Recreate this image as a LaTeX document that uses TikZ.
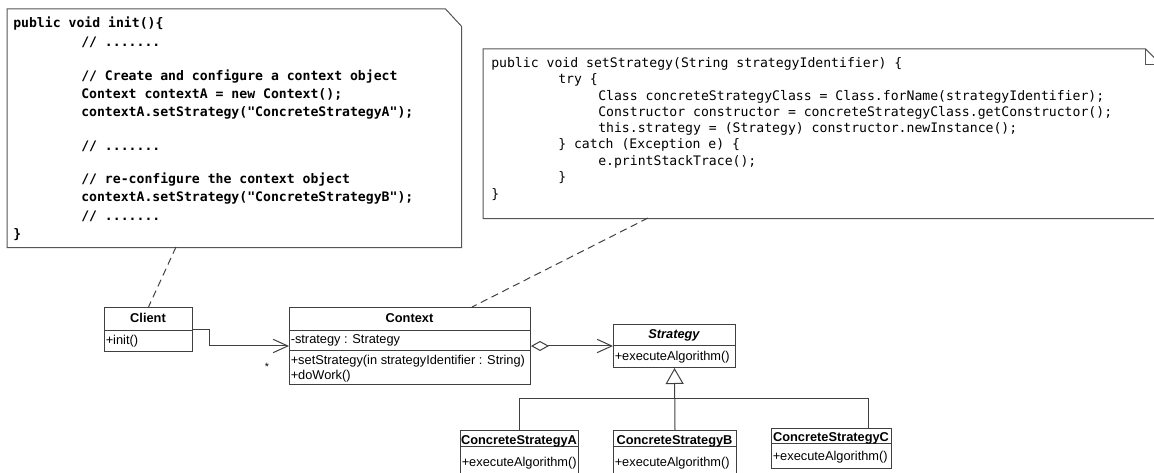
\documentclass[tikz,border=0pt]{standalone}
\usepackage{fontspec}
\setmainfont{Liberation Sans}
\newfontfamily\codefont{DejaVu Sans Mono}
\usetikzlibrary{arrows.meta}
\definecolor{linec}{RGB}{64,64,64}
\definecolor{notec}{RGB}{85,85,85}
\begin{document}
\begin{tikzpicture}[x=0.75pt,y=-0.75pt,
  umlbox/.style={draw=linec, line width=0.75pt, inner sep=0, anchor=north west},
  umltitle/.style={font=\fontsize{9.6}{11}\selectfont\bfseries, inner sep=0, anchor=base},
  umltext/.style={font=\fontsize{9.6}{11}\selectfont, inner sep=0, anchor=base west},
  codeA/.style={font=\fontsize{9.85}{12}\selectfont\codefont\bfseries, inner sep=0, anchor=base west},
  codeB/.style={font=\fontsize{9.85}{12}\selectfont\codefont, inner sep=0, anchor=base west},
  sepline/.style={draw=linec, line width=0.75pt},
  conn/.style={draw=linec, line width=0.75pt},
  openhead/.style={-{Straight Barb[length=11pt,width=10pt]}},
  notedash/.style={draw=linec, line width=0.75pt, dash pattern=on 5.5pt off 3.5pt},
  noteline/.style={draw=notec, line width=0.75pt, line join=miter},
  notebox/.style={inner sep=0, anchor=north west},
]
\useasboundingbox (0,0) rectangle (1154,473);
\fill[white] (0,0) rectangle (1154,473);
\clip (0,0) rectangle (1154,473);

% ---------- note 1 ----------
\node[notebox, minimum width=340.5pt, minimum height=178.5pt] (note1) at (7,9) {};
\draw[noteline] (note1.north west) -- ([xshift=-12pt]note1.north east)
  -- ([yshift=-13pt]note1.north east) -- (note1.south east) -- (note1.south west) -- cycle;
\node[codeA] (a1)  at (13,28)  {public void init()\{};
\node[codeA] (a2)  at (81,47)  {// .......};
\node[codeA] (a3)  at (81,81)  {// Create and configure a context object};
\node[codeA] (a4)  at (81,99)  {Context contextA = new Context();};
\node[codeA] (a5)  at (81,117) {contextA.setStrategy("ConcreteStrategyA");};
\node[codeA] (a6)  at (81,151) {// .......};
\node[codeA] (a7)  at (81,184) {// re-configure the context object};
\node[codeA] (a8)  at (81,202) {contextA.setStrategy("ConcreteStrategyB");};
\node[codeA] (a9)  at (81,221) {// .......};
\node[codeA] (a10) at (13,239) {\}};

% ---------- note 2 ----------
\node[notebox, minimum width=508.5pt, minimum height=126.75pt] (note2) at (483,49) {};
\draw[noteline] (note2.north west) -- ([xshift=-12pt]note2.north east)
  -- ([yshift=-12pt]note2.north east) -- (note2.south east) -- (note2.south west) -- cycle;
\draw[noteline] ([xshift=-12pt]note2.north east) -- ([xshift=-12pt,yshift=-12pt]note2.north east)
  -- ([yshift=-12pt]note2.north east);
\node[codeB] (b1) at (491,68)  {public void setStrategy(String strategyIdentifier) \{};
\node[codeB] (b2) at (558,84)  {try \{};
\node[codeB] (b3) at (598,101) {Class concreteStrategyClass = Class.forName(strategyIdentifier);};
\node[codeB] (b4) at (598,117) {Constructor constructor = concreteStrategyClass.getConstructor();};
\node[codeB] (b5) at (598,133) {this.strategy = (Strategy) constructor.newInstance();};
\node[codeB] (b6) at (558,149) {\} catch (Exception e) \{};
\node[codeB] (b7) at (598,166) {e.printStackTrace();};
\node[codeB] (b8) at (558,182) {\}};
\node[codeB] (b9) at (491,199) {\}};

% ---------- Client ----------
\node[umlbox, minimum width=66pt, minimum height=33pt] (client) at (104,307) {};
\draw[sepline] ([yshift=-18pt]client.north west) -- ([yshift=-18pt]client.north east);
\node[umltitle] (clientT) at (148,323) {Client};
\node[umltext] (clientM) at (105.5,344.5) {+init()};

% ---------- Context ----------
\node[umlbox, minimum width=180.75pt, minimum height=57.75pt] (context) at (289,307) {};
\draw[sepline] ([yshift=-18pt]context.north west) -- ([yshift=-18pt]context.north east);
\draw[sepline] ([yshift=-33pt]context.north west) -- ([yshift=-33pt]context.north east);
\node[umltitle] (contextT) at (409.5,323) {Context};
\node[umltext] (contextA) at (290.5,343.5) {-strategy : Strategy};
\node[umltext] (contextM1) at (290.5,364.5) {+setStrategy(in strategyIdentifier : String)};
\node[umltext] (contextM2) at (290.5,379.5) {+doWork()};

% ---------- Strategy ----------
\node[umlbox, minimum width=91.5pt, minimum height=32.25pt] (strategy) at (613,324) {};
\draw[sepline] ([yshift=-16.5pt]strategy.north west) -- ([yshift=-16.5pt]strategy.north east);
\node[umltitle, font=\fontsize{9.6}{11}\selectfont\bfseries\itshape] (strategyT) at (674,338.5) {Strategy};
\node[umltext] (strategyM) at (614.5,360.5) {+executeAlgorithm()};

% ---------- Concrete strategies ----------
\node[umlbox, minimum width=88.5pt, minimum height=37.5pt] (csa) at (460,430) {};
\draw[sepline] ([yshift=-12.75pt]csa.north west) -- ([yshift=-12.75pt]csa.north east);
\node[umltitle] (csaT) at (519,444.5) {ConcreteStrategyA};
\node[umltext] (csaM) at (461.5,466.5) {+executeAlgorithm()};

\node[umlbox, minimum width=92.25pt, minimum height=37.5pt] (csb) at (613,430) {};
\draw[sepline] ([yshift=-12.75pt]csb.north west) -- ([yshift=-12.75pt]csb.north east);
\node[umltitle] (csbT) at (674.5,444.5) {ConcreteStrategyB};
\node[umltext] (csbM) at (614.5,466.5) {+executeAlgorithm()};

\node[umlbox, minimum width=90pt, minimum height=30pt] (csc) at (771,428) {};
\draw[sepline] ([yshift=-12pt]csc.north west) -- ([yshift=-12pt]csc.north east);
\node[umltitle] (cscT) at (831,441.5) {ConcreteStrategyC};
\node[umltext] (cscM) at (772.5,460.5) {+executeAlgorithm()};

% ---------- connectors ----------
\draw[conn, openhead] (client.east) -- ++(16,0) |- (context.west);
\node[inner sep=0, font=\fontsize{8}{9}\selectfont] (mult) at (267,367) {*};
\draw[conn, {Diamond[open,length=13.5pt,width=7.5pt]}-{Straight Barb[length=11pt,width=10pt]}]
  (context.east) -- (strategy.west);
\draw[conn, -{Triangle[open,length=12pt,width=13.5pt]}] (csb.north) -- (strategy.south);
\coordinate (cscTop) at (868,428);
\draw[conn] (csa.north) -- ++(0,-31) -| (cscTop);

\coordinate (n1a) at (176,247);
\draw[notedash] (n1a) -- (client.north);
\coordinate (n2a) at (648,218);
\coordinate (ctxa) at (472,307);
\draw[notedash] (n2a) -- (ctxa);
\end{tikzpicture}
\end{document}
